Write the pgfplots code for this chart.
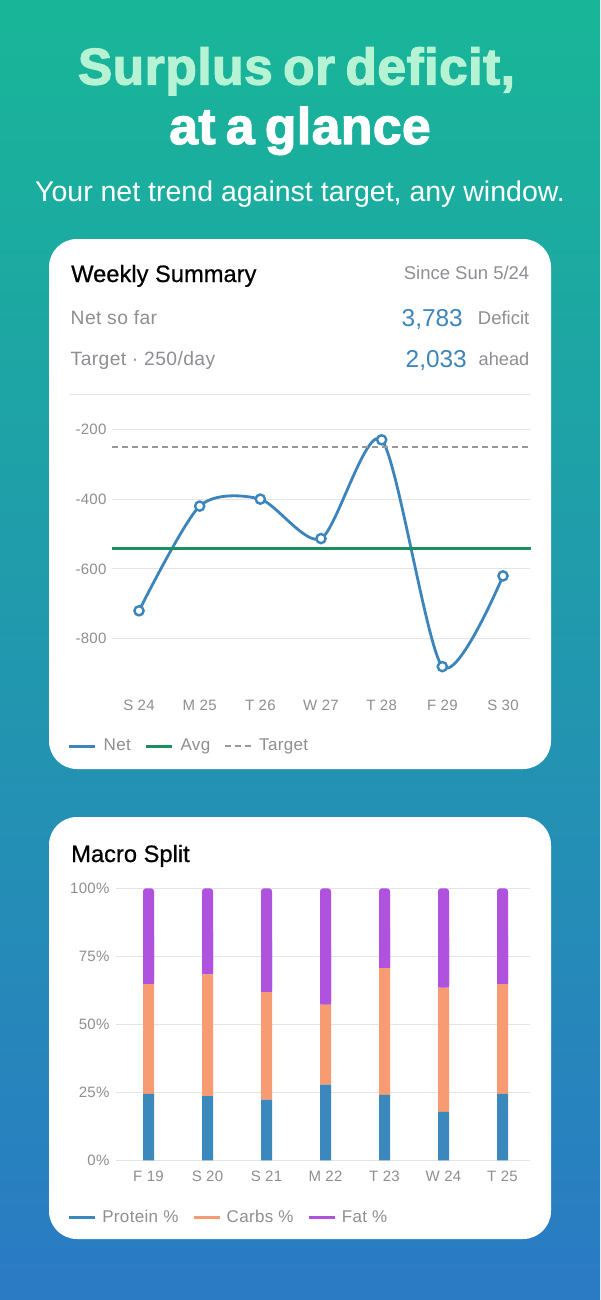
\documentclass[border=0pt]{standalone}
\usepackage{fontspec}
\setmainfont{Liberation Sans}
\newfontfamily\titlefont[BoldFeatures={FakeBold=2.4},WordSpace=0.7,LetterSpace=1.0]{Liberation Sans}
\newfontfamily\semifont[FakeBold=0.6]{Liberation Sans}
\newfontfamily\bodyfont[LetterSpace=2.0]{Liberation Sans}
\usepackage{pgfplots}
\usepackage{pgfplotstable}
\pgfplotsset{compat=1.18}
\usetikzlibrary{shadings}
\definecolor{bgtop}{HTML}{18B698}
\definecolor{bgbot}{HTML}{2A7AC4}
\definecolor{mint}{HTML}{B6F2D4}
\definecolor{grayt}{HTML}{8E8E93}
\definecolor{gridc}{HTML}{E3E3E8}
\definecolor{netc}{HTML}{3C85BA}
\definecolor{avgc}{HTML}{1C8F5F}
\definecolor{tgtc}{HTML}{98989C}
\definecolor{protc}{HTML}{3A88BC}
\definecolor{carbc}{HTML}{F79C72}
\definecolor{fatc}{HTML}{AF52DE}
\pgfplotstableread{
i net
0 -720
1 -420
2 -400
3 -513
4 -230
5 -880
6 -620
}\nettable
\pgfplotstableread{
i protein carbs fat
0 24.4 40.4 35.2
1 23.6 44.8 31.6
2 22.3 39.5 38.2
3 27.8 29.4 42.8
4 24.1 46.6 29.3
5 17.8 45.7 36.5
6 24.4 40.4 35.2
}\macrotable
\pgfplotsset{
  card/.style={
    scale only axis,
    axis line style={draw=none},
    tick style={draw=none},
    major tick length=0pt,
    ymajorgrids=true,
    grid style={gridc,line width=1.1pt},
    tick label style={font=\bodyfont\fontsize{15}{17}\selectfont,text=grayt},
    legend style={draw=none,fill=none,inner sep=0pt,outer sep=0pt,
      font=\bodyfont\fontsize{17}{20}\selectfont,text=grayt,
      nodes={text height=12.5pt,text depth=3.5pt},
      /tikz/every even column/.append style={column sep=12pt}},
    legend columns=3,
    legend cell align=left,
  },
  lineleg/.style={legend image code/.code={\draw[#1,line width=2.6pt] (0pt,0pt) -- (26pt,0pt); \path (31pt,0pt);}},
}
\begin{document}
\begin{tikzpicture}[x=1pt,y=1pt]
\useasboundingbox (0,0) rectangle (600,-1300);
\shade[top color=bgtop,bottom color=bgbot] (0,0) rectangle (600,-1300);
% header
\node[anchor=base,inner sep=0,text=mint] at (296.5,-84.5) {\titlefont\bfseries\fontsize{51.5}{54}\selectfont Surplus or deficit,};
\node[anchor=base,inner sep=0,text=white] at (300,-144) {\titlefont\bfseries\fontsize{51.5}{54}\selectfont at a glance};
\node[anchor=base,inner sep=0,text=white] at (300,-201) {\fontsize{28.5}{30}\selectfont Your net trend against target, any window.};
% cards
\fill[white,rounded corners=28pt] (49,-239) rectangle (551,-769);
\fill[white,rounded corners=28pt] (49,-817) rectangle (551,-1239);
% card 1 head
\node[anchor=base west,inner sep=0] at (71,-282) {\semifont\fontsize{23.7}{26}\selectfont Weekly Summary};
\node[anchor=base east,inner sep=0,text=grayt] at (529.5,-279) {\fontsize{18.5}{20}\selectfont Since Sun 5/24};
\node[anchor=base west,inner sep=0,text=grayt] at (70.5,-324) {\bodyfont\fontsize{19.3}{21}\selectfont Net so far};
\node[anchor=base west,inner sep=0,text=grayt] at (70.5,-365) {\bodyfont\fontsize{19.3}{21}\selectfont Target \textperiodcentered{} 250/day};
\node[anchor=base east,inner sep=0,text=netc] at (463,-326) {\fontsize{24.4}{27}\selectfont 3,783};
\node[anchor=base east,inner sep=0,text=grayt] at (529.5,-324) {\fontsize{18.5}{20}\selectfont Deficit};
\node[anchor=base east,inner sep=0,text=netc] at (467,-367) {\fontsize{24.4}{27}\selectfont 2,033};
\node[anchor=base east,inner sep=0,text=grayt] at (529.5,-365) {\fontsize{18.2}{20}\selectfont ahead};
\draw[gridc,line width=1.1pt] (70,-394.7) -- (530,-394.7);
% line chart
\begin{axis}[card,
  at={(112pt,-690pt)},anchor=south west,
  width=418pt,height=276pt,
  xmin=-0.445,xmax=6.445,ymin=-947,ymax=-156,
  xtick={0,1,2,3,4,5,6},
  xticklabels={S 24,M 25,T 26,W 27,T 28,F 29,S 30},
  ytick={-800,-600,-400,-200},
  yticklabels={-800,-600,-400,-200},
  xticklabel style={yshift=-6pt},
  yticklabel style={xshift=-2pt},
  clip=false,
  legend style={at={(axis description cs:-0.1053,-0.2040)},anchor=west},
]
\addplot[lineleg=netc,netc,line width=2.8pt,smooth,tension=0.45,mark=*,
  mark size=4.6pt,mark options={fill=white,draw=netc,line width=2.4pt}]
  table[x=i,y=net] {\nettable};
\addlegendentry{Net}
\addplot[lineleg=avgc,avgc,line width=3pt] coordinates {(-0.45,-540.4) (6.46,-540.4)};
\addlegendentry{Avg}
\addplot[legend image code/.code={\draw[tgtc,line width=2.2pt,dash pattern=on 6pt off 4pt] (0pt,0pt) -- (26pt,0pt); \path (31pt,0pt);},
  tgtc,line width=1.7pt,dash pattern=on 6pt off 4pt] coordinates {(-0.445,-250) (6.445,-250)};
\addlegendentry{Target}
\end{axis}
% card 2 head
\node[anchor=base west,inner sep=0] at (71,-862) {\semifont\fontsize{23.7}{26}\selectfont Macro Split};
% stacked bars
\begin{axis}[card,
  at={(116pt,-1160.3pt)},anchor=south west,
  width=414pt,height=272pt,
  xmin=-0.55085,xmax=6.46610,ymin=0,ymax=100,
  xtick={0,1,2,3,4,5,6},
  xticklabels={F 19,S 20,S 21,M 22,T 23,W 24,T 25},
  ytick={0,25,50,75,100},
  yticklabels={0\%,25\%,50\%,75\%,100\%},
  ybar stacked,bar width=11pt,stack negative=on previous,
  xticklabel style={yshift=-7pt},
  yticklabel style={xshift=-3pt},
  clip=false,
  legend style={at={(axis description cs:-0.1159,-0.2110)},anchor=west},
]
\addplot[lineleg=protc,fill=protc,draw=none,rounded corners=0.05pt] table[x=i,y=protein] {\macrotable};
\addlegendentry{Protein \%}
\addplot[lineleg=carbc,fill=carbc,draw=none,rounded corners=0.05pt] table[x=i,y=carbs] {\macrotable};
\addlegendentry{Carbs \%}
\addplot[lineleg=fatc,fill=fatc,draw=none,rounded corners=3pt] table[x=i,y=fat] {\macrotable};
\addlegendentry{Fat \%}
% square off the lower corners of the rounded top segments
\addplot[forget plot,fill=none,draw=none] table[x=i,y expr=-\thisrow{fat}] {\macrotable};
\addplot[forget plot,fill=fatc,draw=none,rounded corners=0.05pt] table[x=i,y expr=\thisrow{fat}/2] {\macrotable};
\end{axis}
\end{tikzpicture}
\end{document}
